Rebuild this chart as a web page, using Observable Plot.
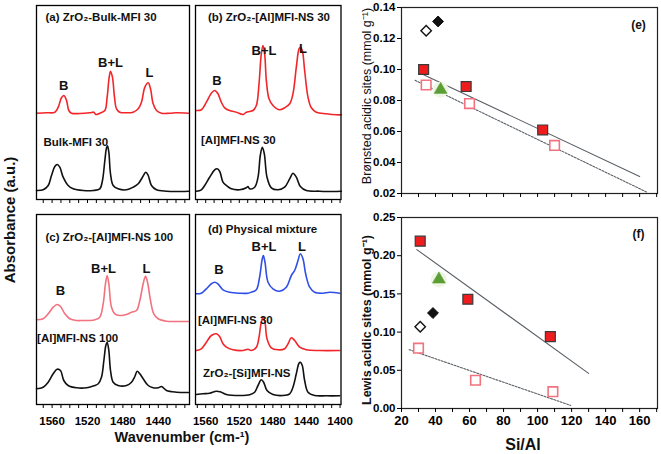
<!DOCTYPE html>
<html>
<head>
<meta charset="utf-8">
<script src="https://cdn.jsdelivr.net/npm/d3@7"></script>
<script src="https://cdn.jsdelivr.net/npm/@observablehq/plot@0.6"></script>
<style>
html,body{margin:0;padding:0;background:#fff;}
#fig{position:relative;width:661px;height:454px;overflow:hidden;background:#fff;}
#fig svg{position:absolute;overflow:visible;}
</style>
</head>
<body>
<div id="fig"></div>
<script>
// ---------- IR spectra of adsorbed pyridine: [wavenumber (cm-1), absorbance (a.u., offset for clarity)] ----------
const specA_ZrO2BulkMFI30 = [[1577.6,87.3],[1566.3,87.7],[1556.9,88.3],[1553.1,93.3],[1549.4,102.7],[1546.7,105.0],[1543.7,100.0],[1541.1,90.0],[1538.1,87.3],[1528.7,87.0],[1517.4,87.7],[1512.9,88.3],[1510.6,86.0],[1506.1,87.3],[1500.4,90.0],[1497.8,103.3],[1495.5,123.3],[1494.0,129.3],[1491.8,123.3],[1489.5,103.3],[1487.2,91.7],[1483.5,88.3],[1475.9,87.7],[1468.4,88.3],[1462.7,91.7],[1459.0,98.3],[1455.2,113.3],[1451.4,117.7],[1448.8,111.7],[1445.8,96.7],[1442.0,90.0],[1436.4,87.3],[1427.0,87.3],[1419.4,87.7],[1405.9,87.3]];
const specA_BulkMFI30 = [[1577.6,10.0],[1570.1,10.7],[1564.4,15.0],[1560.7,25.0],[1556.9,34.0],[1554.3,36.0],[1551.3,33.3],[1547.5,23.3],[1541.9,15.0],[1536.2,11.7],[1524.9,10.0],[1513.6,10.0],[1506.1,11.7],[1503.1,20.0],[1500.4,40.0],[1498.5,52.7],[1497.4,54.7],[1495.9,48.3],[1494.0,26.7],[1491.0,15.0],[1485.4,11.7],[1475.9,10.7],[1468.4,13.3],[1462.7,16.7],[1457.9,23.3],[1454.1,28.3],[1451.4,25.0],[1447.7,15.0],[1442.0,10.7],[1430.7,9.3],[1419.4,9.0],[1405.9,9.3]];
const specB_ZrO2AlMFINS30 = [[1571.2,90.0],[1565.2,90.7],[1559.2,98.3],[1553.3,107.3],[1549.3,110.0],[1545.4,106.7],[1541.4,98.3],[1537.4,92.7],[1531.5,90.0],[1523.5,88.3],[1515.6,86.0],[1511.6,88.3],[1507.7,89.0],[1503.7,90.0],[1499.7,95.0],[1496.5,116.7],[1493.8,146.7],[1491.8,155.0],[1489.8,146.7],[1487.8,120.0],[1484.6,101.7],[1479.9,95.0],[1471.9,90.7],[1466.0,92.7],[1460.0,96.7],[1456.1,106.7],[1452.1,133.3],[1448.9,151.7],[1447.3,153.3],[1445.0,150.0],[1442.2,130.0],[1438.2,103.3],[1434.2,92.7],[1428.3,88.3],[1416.4,86.7],[1404.5,85.7],[1398.5,85.7]];
const specB_AlMFINS30 = [[1571.2,9.3],[1565.2,10.7],[1561.2,15.0],[1555.3,23.3],[1549.3,30.7],[1546.5,31.7],[1543.4,29.3],[1539.4,18.3],[1535.4,15.0],[1529.5,11.7],[1519.6,10.7],[1511.6,12.7],[1509.6,14.0],[1507.7,11.7],[1501.7,13.3],[1497.7,23.3],[1495.0,45.0],[1492.6,53.3],[1490.2,46.7],[1487.0,23.3],[1481.9,12.7],[1473.9,10.7],[1466.0,13.3],[1460.0,21.7],[1456.1,27.3],[1452.1,23.3],[1447.3,14.0],[1440.2,10.0],[1424.3,9.3],[1408.5,9.0],[1398.5,9.3]];
const specC_ZrO2AlMFINS100 = [[1577.6,90.7],[1570.1,91.7],[1564.4,96.7],[1558.8,103.3],[1554.3,106.0],[1550.5,104.0],[1545.6,96.7],[1540.0,91.7],[1532.4,90.0],[1524.9,90.0],[1517.4,90.0],[1511.7,90.7],[1506.1,93.3],[1502.3,106.7],[1499.7,126.7],[1497.8,135.0],[1495.9,126.7],[1492.9,103.3],[1489.1,96.7],[1483.5,95.0],[1475.9,96.0],[1470.3,98.3],[1464.6,100.0],[1460.9,110.0],[1457.1,126.7],[1454.5,134.3],[1452.2,128.3],[1448.8,110.0],[1445.1,96.7],[1440.1,91.7],[1430.7,89.3],[1419.4,89.0],[1405.9,89.0]];
const specC_AlMFINS100 = [[1577.6,21.7],[1570.1,23.3],[1564.4,28.3],[1558.8,36.7],[1554.3,41.3],[1550.5,40.0],[1546.8,30.0],[1541.9,25.0],[1532.4,22.7],[1521.1,22.7],[1515.5,24.0],[1511.7,25.0],[1507.9,26.7],[1504.2,33.3],[1501.5,50.0],[1499.3,65.0],[1497.8,68.3],[1495.9,60.0],[1494.0,40.0],[1491.0,28.3],[1485.4,25.0],[1475.9,25.0],[1470.3,28.3],[1466.5,34.0],[1463.9,39.3],[1460.9,36.7],[1457.1,31.7],[1451.4,25.0],[1445.8,22.7],[1440.1,22.7],[1436.4,24.0],[1430.7,20.0],[1419.4,18.3],[1405.9,18.0]];
const specD_PhysMix = [[1571.2,116.7],[1565.2,117.3],[1559.2,121.7],[1553.3,126.7],[1549.3,128.3],[1545.4,126.7],[1539.4,120.7],[1531.5,118.3],[1519.6,117.3],[1509.6,117.3],[1505.7,118.3],[1499.7,120.7],[1495.8,133.3],[1493.0,150.0],[1491.4,155.0],[1489.4,148.3],[1485.8,128.3],[1479.9,121.7],[1471.9,119.3],[1464.0,123.3],[1458.0,135.0],[1454.1,140.0],[1450.1,150.0],[1447.3,156.7],[1444.2,151.7],[1441.0,136.7],[1436.2,123.3],[1430.3,118.3],[1420.4,117.3],[1412.4,118.3],[1400.5,117.3]];
const specD_AlMFINS30 = [[1571.2,60.0],[1565.2,61.7],[1559.2,68.3],[1553.3,75.0],[1547.3,76.7],[1543.4,74.0],[1539.4,66.7],[1535.4,63.3],[1527.5,60.7],[1515.6,60.0],[1509.6,61.3],[1505.7,60.0],[1499.7,63.3],[1496.5,73.3],[1494.2,86.7],[1491.8,93.3],[1489.4,88.3],[1487.0,71.7],[1481.9,62.7],[1473.9,60.7],[1466.0,61.7],[1462.0,66.7],[1458.0,72.7],[1454.1,70.0],[1448.1,63.3],[1440.2,60.7],[1424.3,60.0],[1400.5,60.0]];
const specD_ZrO2SiMFINS = [[1571.2,16.0],[1563.2,16.7],[1555.3,17.3],[1547.3,19.3],[1541.4,18.3],[1535.4,16.0],[1519.6,15.0],[1507.7,15.7],[1501.7,18.3],[1497.7,25.0],[1493.8,30.7],[1491.0,28.3],[1487.0,20.0],[1479.9,16.0],[1468.0,15.0],[1460.0,16.7],[1456.1,23.3],[1452.1,36.7],[1448.9,47.3],[1447.3,48.3],[1445.0,45.0],[1442.2,30.0],[1438.2,18.3],[1430.3,15.0],[1416.4,14.7],[1400.5,14.7]];

const wnMinorTicks = [1400,1410,1420,1430,1440,1450,1460,1470,1480,1490,1500,1510,1520,1530,1540,1550,1560,1570];
const wnLabelTicksC = [1560,1520,1480,1440];
const wnLabelTicksD = [1560,1520,1480,1440,1400];

const panelTitles = ["(a) ZrO₂-Bulk-MFI 30","(b) ZrO₂-[Al]MFI-NS 30","(c) ZrO₂-[Al]MFI-NS 100","(d) Physical mixture"];
const peakNames = ["B","B+L","L"];
const sampleNamesA = ["Bulk-MFI 30"];
const sampleNamesB = ["[Al]MFI-NS 30"];
const sampleNamesC = ["[Al]MFI-NS 100"];
const sampleNamesD = ["[Al]MFI-NS 30","ZrO₂-[Si]MFI-NS"];

// ---------- Acid sites vs Si/Al ----------
const siAlTicks = [20,30,40,50,60,70,80,90,100,110,120,130,140,150,160,170];
const brTicks = [0.02,0.04,0.06,0.08,0.10,0.12,0.14];
const lewisTicks = [0.00,0.05,0.10,0.15,0.20,0.25];

const eZrAlSiAl = [33, 58, 103];    const eZrAlB = [0.100, 0.089, 0.061];
const eAlSiAl   = [34.5, 60, 110];  const eAlB   = [0.090, 0.078, 0.051];
const eBulkSiAl = [34.5];           const eBulkB = [0.125];
const eZrBulkSiAl = [41.5];         const eZrBulkB = [0.131];
const eMixSiAl  = [43];             const eMixB  = [0.087];
const eFitSolidSiAl = [33, 160];    const eFitSolidB = [0.0966, 0.031];
const eFitDotSiAl   = [28, 164];    const eFitDotB   = [0.093, 0.021];

const fZrAlSiAl = [31, 59, 107.5];  const fZrAlL = [0.219, 0.143, 0.094];
const fAlSiAl   = [30, 63.5, 109];  const fAlL   = [0.079, 0.037, 0.022];
const fBulkSiAl = [31];             const fBulkL = [0.107];
const fZrBulkSiAl = [38.5];         const fZrBulkL = [0.125];
const fMixSiAl  = [42];             const fMixL  = [0.169];
const fFitSolidSiAl = [29, 130];    const fFitSolidL = [0.208, 0.046];
const fFitDotSiAl   = [24.5, 119.5];const fFitDotL   = [0.077, 0.004];

// ---------- drawing ----------
const FONT = '"Liberation Sans Narrow","Arial Narrow","Liberation Sans",Arial,sans-serif';
const fig = document.getElementById("fig");
const RED = "#f2262a", BLACK = "#111111", PINK = "#f2727f", BLUE = "#2f4fe6";

function put(node, left, top) {
  node.style.left = left + "px";
  node.style.top = top + "px";
  fig.appendChild(node);
}

function spectrumPanel(p) {
  const [x0, y0, x1, y1] = p.frame;
  const m = {l: 2, r: 2, t: 2, b: p.tickLabels ? 30 : 8};
  const lo = Math.min(...p.wn), hi = Math.max(...p.wn);
  const marks = [
    ...p.traces.map(t => Plot.line(t.data, {x: d => d[0], y: d => d[1], stroke: t.color, strokeWidth: 1.6, curve: "catmull-rom"})),
    Plot.frame({stroke: "#000", strokeWidth: 1.3}),
    Plot.axisX({ticks: wnMinorTicks.filter(v => v <= hi && v >= lo), tickSize: 4, tickFormat: () => "", label: null}),
    Plot.text([p.title], {x: p.titleAt[0], y: p.titleAt[1], textAnchor: "start", fontSize: 11.5, fontWeight: "bold", fill: BLACK}),
    Plot.text(peakNames, {x: (d, i) => p.peakAt[i][0], y: (d, i) => p.peakAt[i][1], textAnchor: "middle", fontSize: 13, fontWeight: "bold", fill: BLACK}),
    Plot.text(p.samples, {x: (d, i) => p.sampleAt[i][0], y: (d, i) => p.sampleAt[i][1], textAnchor: "start", fontSize: 11.5, fontWeight: "bold", fill: BLACK})
  ];
  if (p.tickLabels) marks.push(Plot.axisX({ticks: p.tickLabels, tickSize: 0, tickPadding: 12, tickFormat: d => String(d), fontSize: 11.5, fontWeight: "bold", label: null}));
  const svg = Plot.plot({
    width: x1 - x0 + m.l + m.r, height: y1 - y0 + m.t + m.b,
    marginLeft: m.l, marginRight: m.r, marginTop: m.t, marginBottom: m.b,
    style: {background: "transparent", fontFamily: FONT, overflow: "visible", color: "#000"},
    x: {domain: p.wn, label: null},
    y: {domain: p.abs, axis: null, label: null},
    marks
  });
  put(svg, x0 - m.l, y0 - m.t);
}

function xy(xs, ys) { return xs.map((x, i) => [x, ys[i]]); }

function scatterPanel(p) {
  const [x0, y0, x1, y1] = p.frame;
  const m = {l: 42, r: 4, t: 8, b: p.xLabels ? 26 : 8};
  const marks = [
    Plot.frame({stroke: "#222", strokeWidth: 1.2}),
    Plot.axisY({ticks: p.yTicks, tickFormat: ".2f", tickSize: 4, tickPadding: 2, fontSize: 11.5, fontWeight: "bold", label: null}),
    Plot.axisX({ticks: siAlTicks, tickSize: 4, tickPadding: 3, tickFormat: p.xLabels ? (d => d % 20 === 0 ? String(d) : "") : () => "", fontSize: 13, fontWeight: "bold", label: null}),
    Plot.line(xy(p.fitSolid[0], p.fitSolid[1]), {x: d => d[0], y: d => d[1], stroke: "#5a5f66", strokeWidth: 1.1}),
    Plot.line(xy(p.fitDot[0], p.fitDot[1]), {x: d => d[0], y: d => d[1], stroke: "#5a5f66", strokeWidth: 1.1, strokeDasharray: "2,1.4"}),
    Plot.dot(xy(p.mix[0], p.mix[1]), {x: d => d[0], y: d => d[1], r: 8, fill: "#eef5e4", stroke: "none"}),
    Plot.dot(xy(p.mix[0], p.mix[1]), {x: d => d[0], y: d => d[1], symbol: "triangle", r: 4.8, fill: "#5c9e36", stroke: "#5c9e36", strokeWidth: 0.5}),
    Plot.dot(xy(p.bulk[0], p.bulk[1]), {x: d => d[0], y: d => d[1], symbol: "diamond2", r: 4.7, fill: "#fff", stroke: "#111", strokeWidth: 1.4}),
    Plot.dot(xy(p.zrBulk[0], p.zrBulk[1]), {x: d => d[0], y: d => d[1], symbol: "diamond2", r: 4.9, fill: "#111", stroke: "#111", strokeWidth: 1}),
    Plot.dot(xy(p.al[0], p.al[1]), {x: d => d[0], y: d => d[1], symbol: "square", r: 5.4, fill: "#fff", stroke: PINK, strokeWidth: 1.6}),
    Plot.dot(xy(p.zrAl[0], p.zrAl[1]), {x: d => d[0], y: d => d[1], symbol: "square", r: 5.6, fill: "#ee1c1c", stroke: "#3a3a3a", strokeWidth: 1.2}),
    Plot.text([p.tag], {frameAnchor: "top-right", dx: -19, dy: p.tagDy, textAnchor: "middle", lineAnchor: "middle", fontSize: 12, fontWeight: "bold", fill: BLACK})
  ];
  const svg = Plot.plot({
    width: x1 - x0 + m.l + m.r, height: y1 - y0 + m.t + m.b,
    marginLeft: m.l, marginRight: m.r, marginTop: m.t, marginBottom: m.b,
    style: {background: "transparent", fontFamily: FONT, overflow: "visible", color: "#000"},
    x: {domain: [20, 170.5], label: null},
    y: {domain: p.yDomain, label: null},
    marks
  });
  put(svg, x0 - m.l, y0 - m.t);
}

function label(text, cx, cy, size, weight, rot) {
  const d = document.createElement("div");
  d.textContent = text;
  d.style.cssText = `position:absolute;left:${cx}px;top:${cy}px;transform:translate(-50%,-50%) rotate(${rot || 0}deg);font-family:${FONT};font-size:${size}px;font-weight:${weight};white-space:nowrap;color:#111;line-height:1;`;
  fig.appendChild(d);
}

spectrumPanel({
  frame: [36, 5, 189, 199], wn: [1577.63, 1404.75], abs: [1, 195],
  traces: [{data: specA_ZrO2BulkMFI30, color: RED}, {data: specA_BulkMFI30, color: BLACK}],
  title: panelTitles[0], titleAt: [1567.5, 183],
  peakAt: [[1546.8, 115], [1494.0, 138], [1449.9, 128]],
  samples: sampleNamesA, sampleAt: [[1569.7, 58]]
});
spectrumPanel({
  frame: [194.5, 5, 340, 199], wn: [1572.14, 1398.9], abs: [1, 195],
  traces: [{data: specB_ZrO2AlMFINS30, color: RED}, {data: specB_AlMFINS30, color: BLACK}],
  title: panelTitles[1], titleAt: [1557.3, 183],
  peakAt: [[1546.5, 120], [1490.6, 150], [1444.2, 152]],
  samples: sampleNamesB, sampleAt: [[1565.6, 60]]
});
spectrumPanel({
  frame: [36, 214, 189, 404], wn: [1577.63, 1404.75], abs: [6, 196],
  traces: [{data: specC_ZrO2AlMFINS100, color: PINK}, {data: specC_AlMFINS100, color: BLACK}],
  title: panelTitles[2], titleAt: [1567.5, 173],
  peakAt: [[1550.5, 120], [1501.9, 142], [1453.3, 142]],
  samples: sampleNamesC, sampleAt: [[1577, 72]],
  tickLabels: wnLabelTicksC
});
spectrumPanel({
  frame: [194.5, 214, 340, 404], wn: [1572.14, 1398.9], abs: [6, 196],
  traces: [{data: specD_PhysMix, color: BLUE}, {data: specD_AlMFINS30, color: RED}, {data: specD_ZrO2SiMFINS, color: BLACK}],
  title: panelTitles[3], titleAt: [1557.3, 181],
  peakAt: [[1544.2, 141], [1490.6, 164], [1445.4, 164]],
  samples: sampleNamesD, sampleAt: [[1569.2, 90], [1563.2, 37]],
  tickLabels: wnLabelTicksD
});

scatterPanel({
  frame: [401, 7, 657, 193], yDomain: [0.02, 0.14], yTicks: brTicks, xLabels: false,
  zrAl: [eZrAlSiAl, eZrAlB], al: [eAlSiAl, eAlB], bulk: [eBulkSiAl, eBulkB], zrBulk: [eZrBulkSiAl, eZrBulkB], mix: [eMixSiAl, eMixB],
  fitSolid: [eFitSolidSiAl, eFitSolidB], fitDot: [eFitDotSiAl, eFitDotB],
  tag: "(e)", tagDy: 18
});
scatterPanel({
  frame: [401, 217, 657, 408], yDomain: [0, 0.25], yTicks: lewisTicks, xLabels: true,
  zrAl: [fZrAlSiAl, fZrAlL], al: [fAlSiAl, fAlL], bulk: [fBulkSiAl, fBulkL], zrBulk: [fZrBulkSiAl, fZrBulkL], mix: [fMixSiAl, fMixL],
  fitSolid: [fFitSolidSiAl, fFitSolidL], fitDot: [fFitDotSiAl, fFitDotL],
  tag: "(f)", tagDy: 17
});

label("Absorbance (a.u.)", 9, 220, 15, "bold", -90);
label("Wavenumber (cm-¹)", 182, 437, 14.5, "bold", 0);
label("Brønsted acidic sites (mmol g⁻¹)", 367, 96, 12.5, "normal", -90);
label("Lewis acidic sites (mmol g⁻¹)", 367, 320, 12.5, "bold", -90);
label("Si/Al", 523, 445, 16, "bold", 0);
</script>
</body>
</html>
